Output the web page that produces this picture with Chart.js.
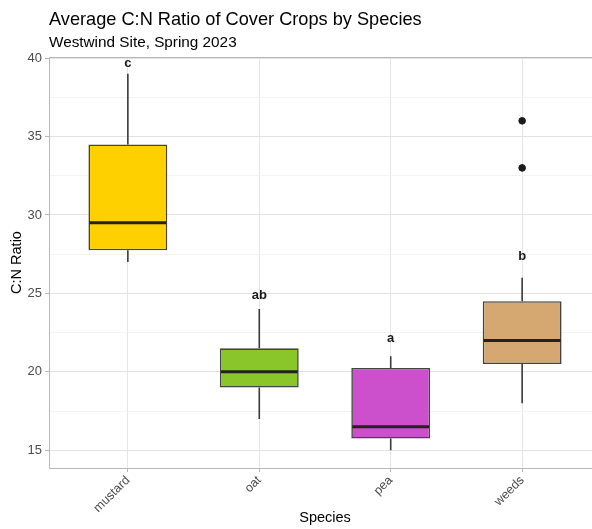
<!DOCTYPE html>
<html>
<head>
<meta charset="utf-8">
<script src="https://cdn.jsdelivr.net/npm/chart.js@4.4.1/dist/chart.umd.min.js"></script>
<style>
  html, body { margin: 0; padding: 0; background: #ffffff; overflow: hidden; }
  #wrap { width: 620px; height: 529px; }
</style>
</head>
<body>
<div id="wrap"><canvas id="c" width="620" height="529"></canvas></div>
<script>
// ---- data ----
const species = ['mustard', 'oat', 'pea', 'weeds'];
const whiskerLow = [27, 17, 15, 18];
const q1 = [27.75, 19, 15.75, 20.5];
const median = [29.5, 20, 16.5, 22];
const q3 = [34.5, 21.5, 20.25, 24.5];
const whiskerHigh = [39, 24, 21, 26];
const outlierSpecies = [3, 3];
const outlierValues = [36, 33];
const letters = ['c', 'ab', 'a', 'b'];
const letterY = [39.68, 24.85, 22.1, 27.33];
const fillColors = ['#FFD000', '#8AC52A', '#CC50CC', '#D4A870'];
const yTickValues = [15, 17.5, 20, 22.5, 25, 27.5, 30, 32.5, 35, 37.5, 40];
const titleText = 'Average C:N Ratio of Cover Crops by Species';
const subtitleText = 'Westwind Site, Spring 2023';

const FONT = "'Liberation Sans', Arial, Helvetica, sans-serif";
const isMajor = v => Math.abs(v % 5) < 1e-6;

const boxPlugin = {
  id: 'boxParts',
  beforeDatasetsDraw(chart) {
    const { ctx, scales: { x, y } } = chart;
    ctx.save();
    const a = chart.chartArea;
    ctx.strokeStyle = '#b8b8b8';
    ctx.lineWidth = 1;
    ctx.strokeRect(a.left + 0.5, a.top + 0.5, a.right - a.left, a.bottom - a.top);
    ctx.strokeStyle = '#3a3a3a';
    ctx.lineWidth = 1.6;
    species.forEach((s, i) => {
      const px = x.getPixelForValue(i);
      ctx.beginPath();
      ctx.moveTo(px, y.getPixelForValue(whiskerHigh[i]));
      ctx.lineTo(px, y.getPixelForValue(q3[i]));
      ctx.moveTo(px, y.getPixelForValue(q1[i]));
      ctx.lineTo(px, y.getPixelForValue(whiskerLow[i]));
      ctx.stroke();
    });
    ctx.restore();
  },
  afterDatasetsDraw(chart) {
    const { ctx, scales: { x, y } } = chart;
    const meta = chart.getDatasetMeta(0);
    ctx.save();
    ctx.strokeStyle = '#222222';
    ctx.lineWidth = 3;
    species.forEach((s, i) => {
      const bar = meta.data[i];
      const half = bar.width / 2;
      const py = y.getPixelForValue(median[i]);
      ctx.beginPath();
      ctx.moveTo(bar.x - half + 1, py);
      ctx.lineTo(bar.x + half - 1, py);
      ctx.stroke();
    });
    ctx.fillStyle = '#1a1a1a';
    ctx.font = 'bold 13px ' + FONT;
    ctx.textAlign = 'center';
    ctx.textBaseline = 'middle';
    letters.forEach((l, i) => {
      ctx.fillText(l, x.getPixelForValue(i), y.getPixelForValue(letterY[i]));
    });
    ctx.restore();
  },
  afterDraw(chart) {
    const { ctx } = chart;
    const a = chart.chartArea;
    ctx.save();
    ctx.fillStyle = '#000000';
    ctx.textAlign = 'left';
    ctx.textBaseline = 'alphabetic';
    ctx.font = '18.2px ' + FONT;
    ctx.fillText(titleText, a.left, 25);
    ctx.font = '15.3px ' + FONT;
    ctx.fillText(subtitleText, a.left, 47);
    ctx.restore();
  }
};

new Chart(document.getElementById('c'), {
  type: 'bar',
  data: {
    datasets: [
      {
        type: 'bar',
        data: species.map((s, i) => ({ x: i, y: [q1[i], q3[i]] })),
        backgroundColor: fillColors,
        borderColor: '#444444',
        borderWidth: 1.6,
        borderSkipped: false,
        barPercentage: 0.6,
        categoryPercentage: 1.0,
        order: 2
      },
      {
        type: 'scatter',
        data: outlierSpecies.map((s, i) => ({ x: s, y: outlierValues[i] })),
        backgroundColor: '#1a1a1a',
        borderColor: '#1a1a1a',
        pointRadius: 3.3,
        pointHoverRadius: 3.3,
        order: 1
      }
    ]
  },
  options: {
    responsive: false,
    animation: false,
    devicePixelRatio: 1,
    layout: { padding: { top: 57, right: 19, left: 0, bottom: 0 } },
    plugins: {
      legend: { display: false },
      tooltip: { enabled: false },
      title: { display: false }
    },
    scales: {
      x: {
        type: 'linear',
        min: -0.6,
        max: 3.6,
        offset: false,
        afterBuildTicks(scale) { scale.ticks = species.map((s, i) => ({ value: i })); },
        afterFit(scale) { scale.height = 61; },
        ticks: {
          callback: v => species[v],
          color: '#4d4d4d',
          font: { family: FONT, size: 12.5 },
          minRotation: 45,
          maxRotation: 45,
          padding: 1
        },
        grid: {
          offset: false,
          color: '#e6e6e6',
          lineWidth: 1,
          tickLength: 4,
          tickColor: '#b8b8b8'
        },
        border: { display: false },
        title: {
          display: true,
          text: 'Species',
          color: '#000000',
          font: { family: FONT, size: 14.5 },
          padding: { top: 0, bottom: 2 }
        }
      },
      y: {
        type: 'linear',
        min: 13.87,
        max: 40.07,
        afterBuildTicks(scale) { scale.ticks = yTickValues.map(v => ({ value: v })); },
        afterFit(scale) { scale.width = 49; },
        ticks: {
          callback: v => (isMajor(v) ? String(v) : ''),
          color: '#4d4d4d',
          font: { family: FONT, size: 13 },
          padding: 3
        },
        grid: {
          color: ctx => (isMajor(ctx.tick.value) ? '#e3e3e3' : '#f1f1f1'),
          lineWidth: ctx => (isMajor(ctx.tick.value) ? 1 : 0.8),
          tickLength: 4,
          tickColor: ctx => (isMajor(ctx.tick.value) ? '#b8b8b8' : 'rgba(0,0,0,0)')
        },
        border: { display: false },
        title: {
          display: true,
          text: 'C:N Ratio',
          color: '#000000',
          font: { family: FONT, size: 14.5 },
          padding: { top: 8, bottom: 0 }
        }
      }
    }
  },
  plugins: [boxPlugin]
});
</script>
</body>
</html>
